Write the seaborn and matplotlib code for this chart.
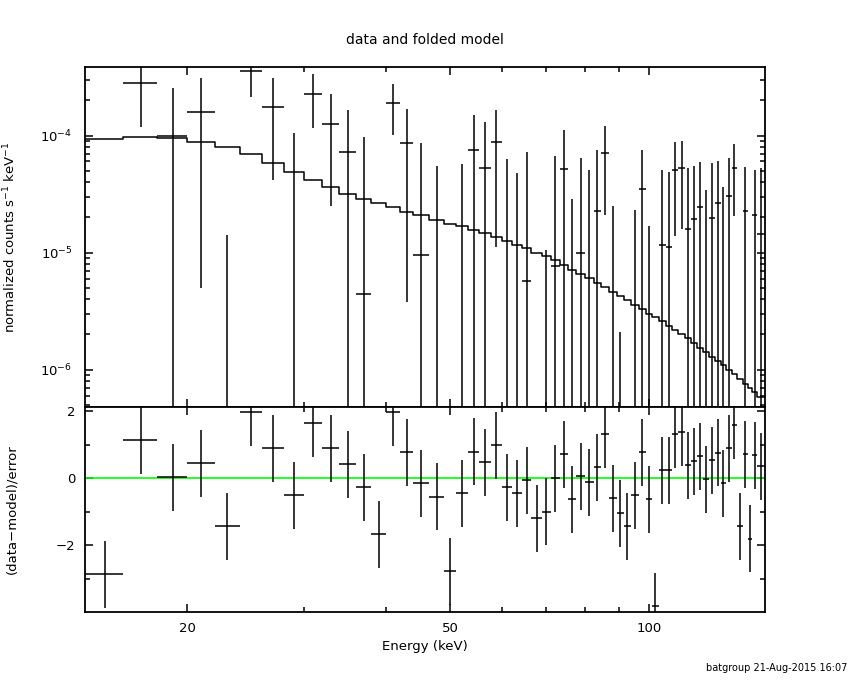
import matplotlib
matplotlib.use("Agg")
import matplotlib.pyplot as plt
import matplotlib.ticker as mticker
import numpy as np
import pandas as pd
import seaborn as sns

# Bin edges (keV) read from the model steps
edges = [14, 16, 18, 20, 22, 24, 26, 28, 30, 32, 34, 36, 38, 40, 42, 44,
         46.5, 49, 51, 53.3, 55.3, 57.6, 60, 62, 64.2, 66.4, 69, 71, 73.3, 75.5,
         77.7, 80, 82.5, 84.6, 87.1, 89.4, 91.6, 94.1, 96.6, 98.9, 101.2, 103.5,
         106.1, 108.5, 110.9, 113.6, 115.9, 118.3, 121.0, 123.4, 126.0, 128.5,
         131.0, 133.5, 136.2, 138.8, 141.3, 143.6, 146.1, 150]

# normalized counts s^-1 keV^-1
flux = [-7.9e-5, 2.80e-4, 1.0e-4, 1.58e-4, -1.38e-4, 3.57e-4, 1.75e-4, -8e-6,
        2.25e-4, 1.25e-4, 7.21e-5, 4.43e-6, -1.16e-4, 1.88e-4, 8.58e-5, 9.5e-6,
        -2.28e-5, -1.91e-4, -1.63e-5, 7.52e-5, 5.28e-5, 8.77e-5, -5.2e-6, -1.79e-5,
        5.69e-6, -6.74e-5, -5.24e-5, 7.67e-6, 5.2e-5, -2.97e-5, 1.0e-5, -1e-7,
        2.25e-5, 7.06e-5, -2.58e-5, -5.04e-5, -6.47e-5, -1.69e-5, 3.5e-5, -2.08e-5,
        -1.35e-4, 1.16e-5, 1.12e-5, 5.09e-5, 5.3e-5, 1.59e-5, 1.94e-5, 2.45e-5,
        4e-7, 1.98e-5, 2.65e-5, -4.6e-6, 3.02e-5, 5.24e-5, -4.64e-5, 2.25e-5,
        -5.72e-5, 2.09e-5, 1.43e-5]

flux_err = [6e-5, 1.61e-4, 1.56e-4, 1.53e-4, 1.52e-4, 1.45e-4, 1.33e-4, 1.14e-4,
            1.1e-4, 1.0e-4, 9.3e-5, 9.3e-5, 8.5e-5, 8.6e-5, 8.2e-5, 7.75e-5,
            7.74e-5, 7.5e-5, 7.36e-5, 7.48e-5, 7.7e-5, 7.65e-5, 6.84e-5, 6.58e-5,
            6.69e-5, 6.5e-5, 6.3e-5, 5.9e-5, 6.0e-5, 5.85e-5, 5.37e-5, 5.1e-5,
            5.21e-5, 4.97e-5, 5.07e-5, 5.25e-5, 4.8e-5, 4.01e-5, 4.02e-5, 3.78e-5,
            3.6e-5, 3.93e-5, 3.77e-5, 3.71e-5, 3.72e-5, 3.69e-5, 3.52e-5, 3.48e-5,
            3.36e-5, 3.83e-5, 3.4e-5, 4.06e-5, 3.39e-5, 3.2e-5, 3.3e-5, 3.09e-5,
            3.2e-5, 3.0e-5, 3.83e-5]

model = [9.27e-5, 9.73e-5, 9.46e-5, 8.77e-5, 7.95e-5, 6.9e-5, 5.81e-5, 4.89e-5,
         4.19e-5, 3.6e-5, 3.16e-5, 2.86e-5, 2.63e-5, 2.45e-5, 2.24e-5, 2.08e-5,
         1.9e-5, 1.77e-5, 1.68e-5, 1.57e-5, 1.46e-5, 1.37e-5, 1.26e-5, 1.17e-5,
         1.09e-5, 1.0e-5, 9.3e-6, 8.6e-6, 7.85e-6, 7.17e-6, 6.6e-6, 6.07e-6,
         5.5e-6, 5.1e-6, 4.62e-6, 4.25e-6, 3.9e-6, 3.55e-6, 3.27e-6, 3.0e-6,
         2.8e-6, 2.59e-6, 2.37e-6, 2.18e-6, 2.0e-6, 1.85e-6, 1.69e-6, 1.54e-6,
         1.42e-6, 1.29e-6, 1.18e-6, 1.09e-6, 1.0e-6, 9.1e-7, 8.4e-7, 7.6e-7,
         7.0e-7, 6.4e-7, 5.8e-7]

# (data-model)/error
resid = [-2.86, 1.13, 0.03, 0.45, -1.43, 1.97, 0.90, -0.51, 1.64, 0.90, 0.42,
         -0.27, -1.67, 1.97, 0.78, -0.15, -0.55, -2.78, -0.45, 0.79, 0.48, 0.99,
         -0.27, -0.45, -0.06, -1.19, -0.99, 0.0, 0.72, -0.63, 0.06, -0.11, 0.33,
         1.31, -0.60, -1.04, -1.43, -0.51, 0.78, -0.63, -3.82, 0.24, 0.24, 1.31,
         1.37, 0.39, 0.51, 0.66, -0.03, 0.54, 0.76, -0.14, 0.9, 1.58, -1.43, 0.72,
         -1.81, 0.69, 0.36]

lo = np.array(edges[:-1])
hi = np.array(edges[1:])
df = pd.DataFrame({
    'Energy': (lo + hi) / 2,
    'HalfWidth': (hi - lo) / 2,
    'Flux': flux,
    'FluxErr': flux_err,
    'Model': model,
    'Resid': resid,
})

sns.set_theme(style='ticks')
plt.rcParams['font.family'] = ['DejaVu Sans']
plt.rcParams['text.color'] = 'black'
plt.rcParams['axes.labelcolor'] = 'black'
plt.rcParams['xtick.labelcolor'] = 'black'
plt.rcParams['ytick.labelcolor'] = 'black'
plt.rcParams['axes.linewidth'] = 1.3

fig = plt.figure(figsize=(8.5, 6.8), dpi=100)
ax1 = fig.add_axes([0.1, 0.4015, 0.8, 0.5])
ax2 = fig.add_axes([0.1, 0.1, 0.8, 0.3015], sharex=ax1)

# Top panel: data and folded model
ax1.set_yscale('log')
ax1.errorbar(df['Energy'], df['Flux'], xerr=df['HalfWidth'], yerr=df['FluxErr'],
             fmt='none', ecolor='black', elinewidth=1.1, capsize=0)
sns.lineplot(x=edges, y=model + [model[-1]], drawstyle='steps-post',
             estimator=None, sort=False, color='black', linewidth=1.1, ax=ax1)
ax1.set_ylim(4.8e-7, 3.85e-4)
ax1.set_xscale('log')
ax1.set_xlim(14, 150)
ax1.set_ylabel('normalized counts s$^{-1}$ keV$^{-1}$', fontsize=9.5)
ax1.yaxis.set_label_coords(-0.098, 0.5)
ax1.yaxis.set_major_locator(mticker.LogLocator(base=10, numticks=10))
ax1.yaxis.set_minor_locator(mticker.LogLocator(base=10, subs=np.arange(2, 10), numticks=10))
ax1.yaxis.set_minor_formatter(mticker.NullFormatter())
ax1.tick_params(axis='x', which='both', labelbottom=False)

# Bottom panel: residuals
ax2.axhline(0, color='#00ff00', linewidth=1.2, zorder=1)
ax2.errorbar(df['Energy'], df['Resid'], xerr=df['HalfWidth'], yerr=1.0,
             fmt='none', ecolor='black', elinewidth=1.1, capsize=0, zorder=2)
ax2.set_ylim(-3.99, 2.13)
ax2.set_yticks([-2, 0, 2])
ax2.yaxis.set_minor_locator(mticker.FixedLocator([-3, -1, 1]))
ax2.set_ylabel('(data\u2212model)/error', fontsize=9.5)
ax2.yaxis.set_label_coords(-0.098, 0.5)
ax2.set_xlabel('Energy (keV)', fontsize=9.5, labelpad=4)

ax2.xaxis.set_major_locator(mticker.FixedLocator([20, 50, 100]))
ax2.xaxis.set_major_formatter(mticker.FixedFormatter(['20', '50', '100']))
ax2.xaxis.set_minor_locator(mticker.FixedLocator([30, 40, 60, 70, 80, 90]))
ax2.xaxis.set_minor_formatter(mticker.NullFormatter())

for ax in (ax1, ax2):
    ax.tick_params(which='both', direction='in', top=True, right=True,
                   color='black', labelcolor='black', labelsize=9.5, width=1.1)
    ax.tick_params(which='major', length=6)
    ax.tick_params(which='minor', length=3.5)
    for s in ax.spines.values():
        s.set_color('black')
        s.set_linewidth(1.3)
ax1.tick_params(axis='y', pad=9)
ax2.tick_params(axis='y', pad=7)
ax2.tick_params(axis='x', pad=7)

fig.text(0.5, 1 - 40 / 680, 'data and folded model', ha='center', va='center',
         fontsize=10, color='black')
fig.text(0.997, 1 - 668 / 680, 'batgroup 21-Aug-2015 16:07', ha='right', va='center',
         fontsize=7, color='black')

fig.savefig('out.png', dpi=100, facecolor='white')
